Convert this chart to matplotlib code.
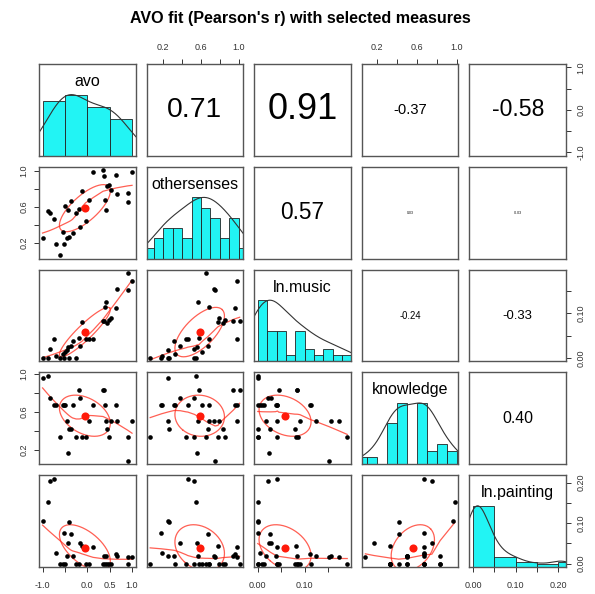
import numpy as np
import matplotlib
matplotlib.use('Agg')
import matplotlib.pyplot as plt

plt.rcParams['font.family'] = ['Liberation Sans', 'DejaVu Sans']

avo = [-1.00, -0.88, -0.84, -0.75, -0.69, -0.61, -0.54, -0.51, -0.50,
       -0.46, -0.44, -0.41, -0.37, -0.33, -0.25, -0.18, -0.16, -0.12, -0.04,
       0.04, 0.13, 0.35, 0.37, 0.40, 0.42, 0.45, 0.49,
       0.52, 0.64, 0.66, 0.90, 0.92, 1.00]
othersenses = [0.25, 0.55, 0.53, 0.46, 0.19, 0.06, 0.32, 0.18, 0.61,
               0.25, 0.56, 0.26, 0.67, 0.31, 0.53, 0.58, 0.38, 0.78, 0.44,
               0.68, 0.985, 1.01, 0.94, 0.68, 0.57, 0.83, 0.85,
               0.79, 0.96, 0.74, 0.65, 0.75, 0.985]
ln_music = [0.000, 0.000, 0.021, 0.042, 0.005, 0.000, 0.010, 0.000, 0.014,
            0.018, 0.024, 0.000, 0.026, 0.038, 0.000, 0.045, 0.028, 0.082, 0.042,
            0.042, 0.042, 0.083, 0.083, 0.114, 0.125, 0.079, 0.085,
            0.090, 0.112, 0.156, 0.191, 0.152, 0.173]
knowledge = [0.96, 0.98, 0.75, 0.667, 0.667, 0.333, 0.667, 0.667, 0.667,
             0.50, 0.167, 0.417, 0.417, 0.667, 0.333, 0.833, 0.75, 0.333, 0.333,
             0.50, 0.667, 0.833, 0.833, 0.667, 0.50, 0.417, 0.333,
             0.50, 0.667, 0.50, 0.333, 0.083, 0.50]
ln_painting = [0.106, 0.152, 0.205, 0.210, 0.027, 0.000, 0.000, 0.075, 0.000,
               0.020, 0.052, 0.102, 0.072, 0.020, 0.000, 0.000, 0.051, 0.043, 0.000,
               0.000, 0.040, 0.000, 0.020, 0.000, 0.020, 0.000, 0.000,
               0.000, 0.023, 0.020, 0.000, 0.016, 0.017]

names = ['avo', 'othersenses', 'ln.music', 'knowledge', 'ln.painting']
data = [np.array(v) for v in (avo, othersenses, ln_music, knowledge, ln_painting)]

# correlations printed in the upper panels (row, col)
cor_text = {(0, 1): 0.71, (0, 2): 0.91, (0, 3): -0.37, (0, 4): -0.58,
            (1, 2): 0.57, (1, 3): 0.03, (1, 4): -0.03,
            (2, 3): -0.24, (2, 4): -0.33,
            (3, 4): 0.40}

hist_breaks = [np.linspace(-1, 1, 5), np.linspace(0, 1.1, 12), np.linspace(0, 0.2, 11),
               np.linspace(0, 1.0, 11), np.linspace(0, 0.25, 6)]

ticks = [[-1, -0.5, 0, 0.5, 1], [0.2, 0.4, 0.6, 0.8, 1.0], [0, 0.05, 0.10, 0.15],
         [0.2, 0.4, 0.6, 0.8, 1.0], [0, 0.05, 0.10, 0.15, 0.20]]
xlabels = [['-1.0', '', '0.0', '0.5', '1.0'], ['0.2', '', '0.6', '', '1.0'],
           ['0.00', '', '0.10', ''], ['0.2', '', '0.6', '', '1.0'],
           ['0.00', '', '0.10', '', '0.20']]
ylabels = [['-1.0', '', '0.0', '', '1.0'], ['0.2', '', '0.6', '', '1.0'],
           ['0.00', '', '0.10', ''], ['0.2', '', '0.6', '', '1.0'],
           ['0.00', '', '0.10', '', '0.20']]


def lowess(x, y, f=2/3, iters=3):
    o = np.argsort(x, kind='stable')
    x = x[o]; y = y[o]
    n = len(x)
    ns = max(min(int(f * n + 1e-7), n), 2)
    rw = np.ones(n)
    fit = np.zeros(n)
    rng = x[-1] - x[0]
    for it in range(iters + 1):
        nl, nr = 0, ns - 1
        for i in range(n):
            while nr < n - 1 and x[i] - x[nl] > x[nr + 1] - x[i]:
                nl += 1; nr += 1
            h = max(x[i] - x[nl], x[nr] - x[i])
            d = np.abs(x - x[i])
            w = np.zeros(n)
            inside = d <= 0.999 * h
            w[inside] = (1 - (d[inside] / h) ** 3) ** 3 if h > 0 else 1
            w[d <= 0.001 * h] = 1
            w *= rw
            if w.sum() <= 0:
                fit[i] = y[i]; continue
            w = w / w.sum()
            a = np.sum(w * x)
            c = np.sum(w * (x - a) ** 2)
            if np.sqrt(c) > 0.001 * rng:
                w = w * ((x[i] - a) * (x - a) / c + 1)
            fit[i] = np.sum(w * y)
        if it < iters:
            res = np.abs(y - fit)
            cmad = 6 * np.median(res)
            if cmad == 0:
                break
            r = res / cmad
            rw = np.where(r < 1, (1 - r ** 2) ** 2, 0)
    return x, fit


def density(x, adjust=1.2):
    n = len(x)
    q1, q3 = np.percentile(x, [25, 75])
    bw = 1.06 * min(np.std(x, ddof=1), (q3 - q1) / 1.34) * n ** -0.2 * adjust
    g = np.linspace(x.min() - 3 * bw, x.max() + 3 * bw, 512)
    d = np.exp(-0.5 * ((g[:, None] - x[None, :]) / bw) ** 2).sum(axis=1)
    return g, d / d.max()


def rcounts(x, edges):
    idx = np.searchsorted(np.round(edges, 10), x, side='left') - 1
    idx = np.clip(idx, 0, len(edges) - 2)
    return np.bincount(idx, minlength=len(edges) - 1)


W, H = 595, 594
fig = plt.figure(figsize=(W / 100, H / 100), dpi=100)
fig.text(0.505, 1 - 18 / H, "AVO fit (Pearson's r) with selected measures",
         ha='center', va='center', fontsize=11.6, fontweight='bold')

left, top = 39, 64
pw, ph, gap = 96.6, 91.8, 11
k = len(names)
lims = []
for v in data:
    pad = 0.04 * (v.max() - v.min())
    lims.append((v.min() - pad, v.max() + pad))

red = '#ff2a1a'
for i in range(k):
    for j in range(k):
        x0 = left + j * (pw + gap)
        y0 = top + i * (ph + gap)
        ax = fig.add_axes([x0 / W, 1 - (y0 + ph) / H, pw / W, ph / H])
        ax.set_xlim(lims[j]); ax.set_ylim(lims[i])
        for s in ax.spines.values():
            s.set_color('#555555'); s.set_linewidth(1.0)
        xv, yv = data[j], data[i]
        if i == j:
            lo, hi = lims[i]
            sc = lambda h: lo + np.asarray(h) / 1.5 * (hi - lo)
            e = hist_breaks[i]
            cnt = rcounts(xv, e)
            hts = cnt / cnt.max()
            ax.bar(e[:-1], sc(hts) - lo, bottom=lo, width=np.diff(e), align='edge',
                   color='#22f4f4', edgecolor='#222222', linewidth=0.6)
            g, d = density(xv)
            ax.plot(g, sc(d), color='#333333', lw=0.8)
            ax.text(0.5, 0.81, names[i], transform=ax.transAxes, ha='center',
                    va='center', fontsize=11.5)
        elif i > j:
            ax.scatter(xv, yv, s=11, c='black', linewidths=0, zorder=3)
            lx, ly = lowess(xv, yv)
            ax.plot(lx, ly, color=red, lw=0.9, alpha=0.75)
            r = np.corrcoef(xv, yv)[0, 1]
            xm, ym = xv.mean(), yv.mean()
            xs, ys = xv.std(ddof=1), yv.std(ddof=1)
            t = np.sign(r) / np.sqrt(2) if abs(r) > 0 else 1 / np.sqrt(2)
            ang = np.linspace(0, 2 * np.pi, 52)
            circ = np.column_stack([np.cos(ang), np.sin(ang)])
            shape = np.diag([np.sqrt(1 + r), np.sqrt(1 - r)]) @ np.array([[t, t], [-t, t]])
            el = circ @ shape
            ax.plot(el[:, 0] * xs + xm, el[:, 1] * ys + ym, color=red, lw=0.9, alpha=0.75)
            ax.scatter([xm], [ym], s=34, c='#ff1a0a', linewidths=0, zorder=4)
        else:
            r = cor_text[(i, j)]
            ax.text(0.5, 0.5, f'{r:.2f}', transform=ax.transAxes, ha='center',
                    va='center', fontsize=max(2.5, 28.6 * abs(r)))

        # axes on alternating outer sides, like pairs()
        ax.set_xticks(ticks[j]); ax.set_xticklabels(xlabels[j])
        ax.set_yticks(ticks[i]); ax.set_yticklabels(ylabels[i], rotation=90, va='center')
        show_b = i == k - 1 and j % 2 == 0
        show_t = i == 0 and j % 2 == 1
        show_r = j == k - 1 and i % 2 == 0
        show_l = j == 0 and i % 2 == 1
        ax.tick_params(axis='x', bottom=show_b, top=show_t, labelbottom=show_b,
                       labeltop=show_t, length=3.6, width=0.7, color='#333333',
                       labelsize=6.5, labelcolor='#333333', pad=6.5 if show_b else 5)
        ax.tick_params(axis='y', left=show_l, right=show_r, labelleft=show_l,
                       labelright=show_r, length=3.6, width=0.7, color='#333333',
                       labelsize=6.5, labelcolor='#333333', pad=4)

fig.savefig('out.png', dpi=100)
